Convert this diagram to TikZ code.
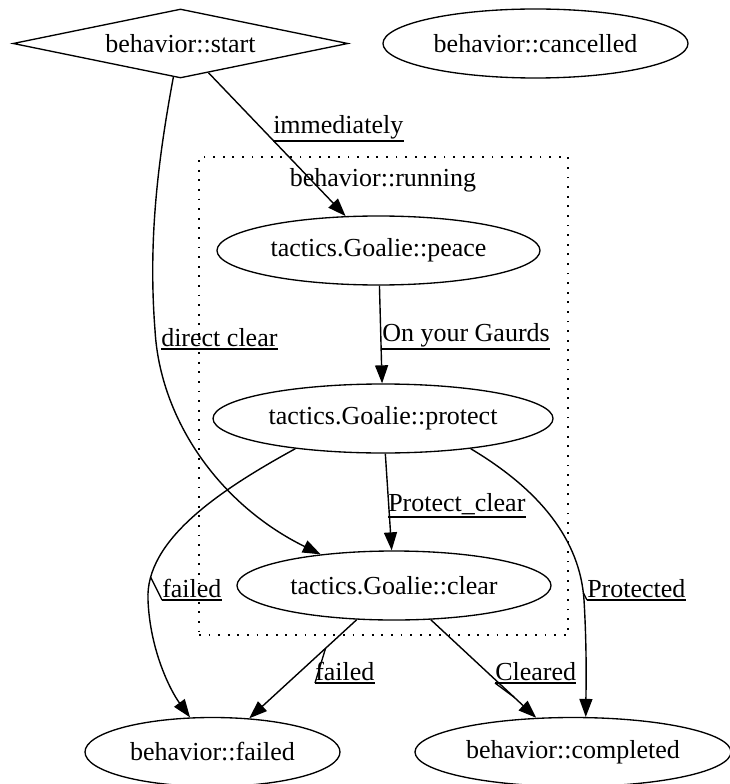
\documentclass[tikz,border=0pt]{standalone}
\usepackage{fontspec}
\setmainfont{Liberation Serif}
\usetikzlibrary{shapes.geometric,arrows.meta}
\tikzset{
  base/.style={draw, line width=1pt, inner sep=0pt, font=\fontsize{19.5}{23}\selectfont},
  ell/.style={base, ellipse, minimum height=51.75pt},
  dia/.style={base, diamond, aspect=4.86, minimum width=251.25pt, minimum height=51.75pt},
  edge/.style={line width=1.05pt, -{Triangle[length=13.5pt,width=9.75pt]}},
  lbl/.style={inner xsep=0pt, inner ysep=1.5pt, anchor=south west, font=\fontsize{19.5}{23}\selectfont},
  uline/.style={line width=1pt},
  cluster/.style={draw, line width=1.4pt, dash pattern=on 1.4pt off 5.8pt, minimum width=276.75pt, minimum height=358.5pt, inner sep=0pt},
  ctitle/.style={inner sep=0pt, font=\fontsize{19.5}{23}\selectfont}
}
\begin{document}
\begin{tikzpicture}[x=0.75pt,y=-0.75pt]
\useasboundingbox (0,0) rectangle (729,784);
% cluster
\node[cluster] (running) at (383.5,396) {};
\node[ctitle] (runningt) at (383,180) {behavior::running};
% nodes
\node[dia] (start) at (180.5,43.5) {behavior::start};
\node[ell, minimum width=228.75pt] (cancelled) at (535.5,43.5) {behavior::cancelled};
\node[ell, minimum width=242.25pt] (peace) at (378.5,250.5) {tactics.Goalie::peace};
\node[ell, minimum width=255pt] (protect) at (383,418.5) {tactics.Goalie::protect};
\node[ell, minimum width=235.5pt] (clear) at (394,585.5) {tactics.Goalie::clear};
\node[ell, minimum width=191.25pt] (failed) at (212.5,752) {behavior::failed};
\node[ell, minimum width=237pt] (completed) at (573,752) {behavior::completed};
% edges
\draw[edge] (start) -- (peace);
\draw[edge] (start.258) .. controls (158,160) and (148,240) .. (155,330)
  .. controls (160,420) and (220,505) .. (clear.157.6);
\draw[edge] (peace) -- (protect);
\draw[edge] (protect) -- (clear);
\draw[edge] (protect.199) .. controls (220,490) and (145,540) .. (148,600) coordinate[pos=0.87] (pf)
  .. controls (150,650) and (170,690) .. (failed.123.5);
\draw[edge] (protect.341.7) .. controls (540,490) and (580,540) .. (584,600) coordinate[pos=0.96] (pc)
  .. controls (587,650) and (586,690) .. (completed.70.6);
\draw[edge] (clear) -- (failed) coordinate[pos=0.29] (cf);
\draw[edge] (clear) -- (completed) coordinate[pos=0.79] (cc);
% labels
\node[lbl] (l1) at (273,141) {immediately};
\node[lbl] (l2) at (161,349) {direct clear};
\node[lbl] (l3) at (382,349) {On your Gaurds};
\node[lbl] (l4) at (388,517) {Protect\_clear};
\node[lbl] (l5) at (162,600) {failed};
\node[lbl] (l6) at (587,600) {Protected};
\node[lbl] (l7) at (315,683) {failed};
\node[lbl] (l8) at (495,683) {Cleared};
\foreach \l in {l1,l2,l3,l4,l5,l6,l7,l8}
  \draw[uline] (\l.south west) -- (\l.south east);
\draw[uline] (pf) -- (l5.south west);
\draw[uline] (pc) -- (l6.south west);
\draw[uline] (cf) -- (l7.south west);
\draw[uline] (cc) -- (l8.south west);
\end{tikzpicture}
\end{document}
